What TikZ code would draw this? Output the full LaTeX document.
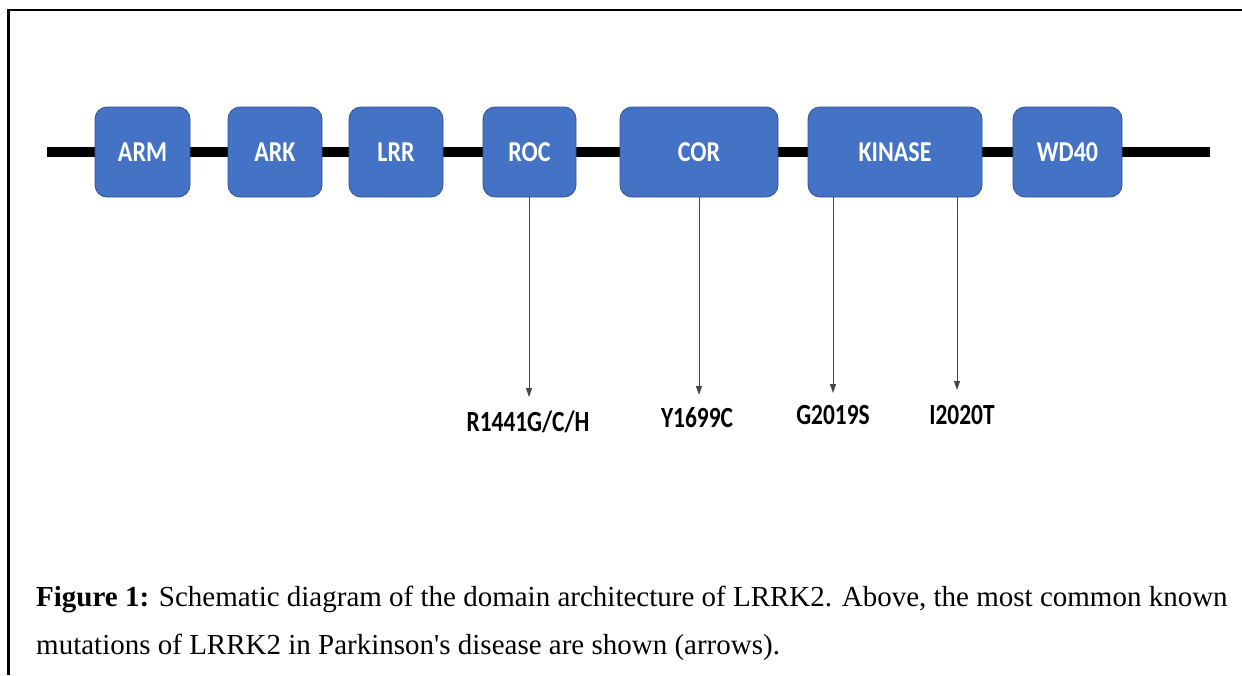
\documentclass[tikz,border=0pt]{standalone}
\usepackage{fontspec}
\setmainfont{Liberation Serif}[Ligatures=TeXOff]
\newfontfamily\calib{Carlito}
\usetikzlibrary{arrows.meta}
\definecolor{boxblue}{RGB}{68,114,196}
\definecolor{boxedge}{RGB}{47,82,143}
\definecolor{arrgray}{RGB}{70,70,70}
\newcommand{\tallbox}[2]{\scalebox{1}[#1]{#2}}
\tikzset{
  dombox/.style={draw=boxedge, line width=0.8pt, fill=boxblue, rounded corners=12pt,
    inner sep=0pt, text=white, minimum height=90pt, font=\calib\bfseries\fontsize{24}{24}\selectfont},
  mut/.style={arrgray, line width=1pt, -{Triangle[length=9pt,width=6pt]}},
  mutlabel/.style={inner sep=0pt, font=\calib\bfseries\fontsize{23.4}{24}\selectfont},
  capline/.style={anchor=base west, inner sep=0pt, font=\fontsize{29}{29}\selectfont},
}
\begin{document}
\begin{tikzpicture}[x=1pt,y=-1pt]
\useasboundingbox (0,0) rectangle (1242,675);
% frame
\coordinate (fTL) at (8.5,10);
\coordinate (fTR) at (1242,10);
\coordinate (fBL) at (8.5,675);
\draw[line width=2.5pt] (fTR) -- (fTL) -- (fBL);
% backbone
\coordinate (bbL) at (47,152);
\coordinate (bbR) at (1210,152);
\draw[line width=10pt] (bbL) -- (bbR);
% domains
\node[dombox, minimum width=95pt] (arm) at (142.5,152) {\tallbox{1.2}{ARM}};
\node[dombox, minimum width=94pt] (ark) at (275,152) {\tallbox{1.2}{ARK}};
\node[dombox, minimum width=94pt] (lrr) at (396,152) {\tallbox{1.2}{LRR}};
\node[dombox, minimum width=93pt] (roc) at (529.5,152) {\tallbox{1.2}{ROC}};
\node[dombox, minimum width=158pt] (cor) at (699,152) {\tallbox{1.2}{COR}};
\node[dombox, minimum width=174pt] (kin) at (895,152) {\tallbox{1.2}{KINASE}};
\node[dombox, minimum width=109pt] (wd) at (1067.5,152) {\tallbox{1.2}{WD40}};
% mutation labels
\node[mutlabel] (m1) at (528,422) {\tallbox{1.25}{R1441G/C/H}};
\node[mutlabel] (m2) at (697,418) {\tallbox{1.25}{Y1699C}};
\node[mutlabel] (m3) at (833,415) {\tallbox{1.25}{G2019S}};
\node[mutlabel] (m4) at (962,415) {\tallbox{1.25}{I2020T}};
% arrows
\coordinate (t1) at (529,397);
\coordinate (t2) at (699,395);
\coordinate (t3) at (833,393);
\coordinate (t4) at (957,390);
\draw[mut] (roc.south -| t1) -- (t1);
\draw[mut] (cor.south -| t2) -- (t2);
\draw[mut] (kin.south -| t3) -- (t3);
\draw[mut] (kin.south -| t4) -- (t4);
% caption
\node[capline] (c1) at (36,606) {\textbf{Figure 1:} Schematic diagram of the domain architecture of LRRK2. Above, the most common known};
\node[capline] (c2) at (36,654) {mutations of LRRK2 in Parkinson's disease are shown (arrows).};
\end{tikzpicture}
\end{document}
